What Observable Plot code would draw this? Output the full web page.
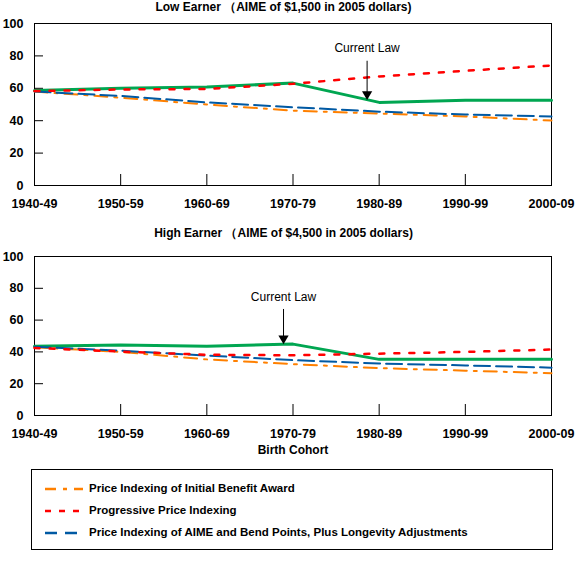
<!DOCTYPE html>
<html><head><meta charset="utf-8">
<script src="https://cdn.jsdelivr.net/npm/d3@7"></script>
<script src="https://cdn.jsdelivr.net/npm/@observablehq/plot@0.6"></script>
<style>
body{margin:0;background:#fff;font-family:"Liberation Sans",Arial,sans-serif;}
#wrap{position:relative;width:578px;height:562px;overflow:hidden;}
.abs{position:absolute;}
.title{font-weight:bold;font-size:12px;line-height:14px;text-align:center;white-space:nowrap;}
#legend{position:absolute;left:31px;top:469px;width:522px;height:81px;box-sizing:border-box;border:1px solid #000;}
.lrow{position:absolute;left:0;height:16px;font-size:11.5px;font-weight:bold;line-height:16px;white-space:nowrap;}
.lrow svg{position:absolute;left:13px;top:0;}
.lrow span{position:absolute;left:57px;top:0;}
</style></head><body><div id="wrap"></div>
<script>
const cohorts = [1940, 1950, 1960, 1970, 1980, 1990, 2000];
const cohortLabels = ["1940-49", "1950-59", "1960-69", "1970-79", "1980-89", "1990-99", "2000-09"];
const yTicks = [0, 20, 40, 60, 80, 100];

const seriesNames = ["Current Law", "Price Indexing of Initial Benefit Award", "Progressive Price Indexing",
  "Price Indexing of AIME and Bend Points, Plus Longevity Adjustments"];
const seriesColors = ["#00a651", "#ff8000", "#ff0000", "#0059a3"];

const lowCurrentLaw   = [58.6, 60.0, 60.8, 63.2, 51.3, 52.7, 52.7];
const lowPriceInitial = [58.0, 54.2, 50.0, 46.2, 44.4, 42.6, 40.1];
const lowProgressive  = [58.3, 59.3, 59.6, 62.8, 67.3, 70.8, 74.1];
const lowPriceAime    = [58.0, 55.3, 51.3, 48.3, 45.6, 43.8, 42.6];

const highCurrentLaw   = [43.5, 44.4, 43.5, 44.9, 35.3, 35.3, 35.3];
const highPriceInitial = [42.9, 40.0, 35.3, 32.3, 29.8, 28.2, 26.6];
const highProgressive  = [42.5, 40.2, 38.2, 37.9, 38.9, 40.0, 41.5];
const highPriceAime    = [43.3, 40.8, 37.7, 34.8, 32.7, 31.5, 30.1];

// Current Law annotation: [cohort position, text y, arrow top y, arrow tip y]
const lowAnnotation  = [1978.6, 84.6, 77.0, 54.5];
const highAnnotation = [1968.9, 74.3, 67.0, 46.6];

const lowTitle = "Low Earner （AIME of $1,500 in 2005 dollars)";
const highTitle = "High Earner （AIME of $4,500 in 2005 dollars)";
const xTitle = "Birth Cohort";

const styles = [
  {strokeWidth: 3},
  {strokeWidth: 2, strokeDasharray: "13,7,3,7"},
  {strokeWidth: 2.5, strokeDasharray: "5,10"},
  {strokeWidth: 2, strokeDasharray: "16,6"}
];
const drawOrder = [0, 1, 3, 2];

function rows(arr) { return cohorts.map((c, i) => ({cohort: c, value: arr[i]})); }

function panel(seriesArrays, ann, opts) {
  const W = 578, ml = 34, mr = 27;
  const frameW = W - ml - mr;
  const frameH = opts.height - opts.marginTop - opts.marginBottom;
  const a = {x: ann[0], yText: ann[1], yTop: ann[2], yTip: ann[3], label: seriesNames[0]};
  const marks = [
    Plot.frame({stroke: "#000", strokeWidth: 1}),
    Plot.ruleX(cohorts, {x: d => d, insetTop: frameH - 11, stroke: "#000"}),
    Plot.ruleY(yTicks, {y: d => d, insetRight: frameW - 9, stroke: "#000"}),
    Plot.axisX(cohorts, {tickSize: 0, tickPadding: 14, tickFormat: d => cohortLabels[cohorts.indexOf(d)]}),
    Plot.axisY(yTicks, {tickSize: 0, tickPadding: 11})
  ];
  for (const k of drawOrder) {
    marks.push(Plot.line(rows(seriesArrays[k]), {x: "cohort", y: "value", stroke: seriesColors[k], ...styles[k]}));
  }
  marks.push(
    Plot.link([a], {x1: "x", x2: "x", y1: "yTop", y2: "yTip", stroke: "#000", strokeWidth: 1}),
    Plot.dot([a], {x: "x", y: "yTip", symbol: "triangle", rotate: 180, r: 3.8, fill: "#000", stroke: "none", dy: -3}),
    Plot.text([a], {x: "x", y: "yText", text: "label", fontWeight: "normal", fontSize: 12, fill: "#000"})
  );
  return Plot.plot({
    width: W, height: opts.height,
    marginTop: opts.marginTop, marginBottom: opts.marginBottom, marginLeft: ml, marginRight: mr,
    x: {domain: [1940, 2000]},
    y: {domain: [0, 100]},
    style: {fontFamily: "'Liberation Sans', Arial, sans-serif", fontSize: "12.5px", fontWeight: "bold", color: "#000", background: "transparent", overflow: "visible"},
    marks
  });
}

const wrap = document.getElementById("wrap");
function place(el, top, left) { el.classList.add("abs"); el.style.top = top + "px"; el.style.left = left + "px"; wrap.appendChild(el); return el; }
function textDiv(txt, cls, top, left, width) {
  const d = document.createElement("div"); d.className = cls; d.textContent = txt;
  d.style.width = width + "px"; return place(d, top, left);
}

const p1 = panel([lowCurrentLaw, lowPriceInitial, lowProgressive, lowPriceAime], lowAnnotation,
  {height: 215, marginTop: 23, marginBottom: 30});
place(p1, 0, 0);
const p2 = panel([highCurrentLaw, highPriceInitial, highProgressive, highPriceAime], highAnnotation,
  {height: 215, marginTop: 26, marginBottom: 30});
place(p2, 230, 0);

textDiv(lowTitle, "title", 0, 0, 567);
textDiv(highTitle, "title", 226, 0, 567);
textDiv(xTitle, "title", 443, 0, 586);

// legend
const legend = document.createElement("div"); legend.id = "legend"; wrap.appendChild(legend);
const legendOrder = [1, 2, 3];
const legendTops = [10, 32, 54];
legendOrder.forEach((k, j) => {
  const r = document.createElement("div"); r.className = "lrow"; r.style.top = legendTops[j] + "px";
  const svg = d3.create("svg").attr("width", 40).attr("height", 16);
  svg.append("line").attr("x1", 0).attr("x2", 38).attr("y1", 9).attr("y2", 9)
    .attr("stroke", seriesColors[k]).attr("stroke-width", 2.5)
    .attr("stroke-dasharray", k === 1 ? "11,7,4,7" : k === 2 ? "6,8" : "12,8");
  r.appendChild(svg.node());
  const s = document.createElement("span"); s.textContent = seriesNames[k]; r.appendChild(s);
  legend.appendChild(r);
});
</script></body></html>
